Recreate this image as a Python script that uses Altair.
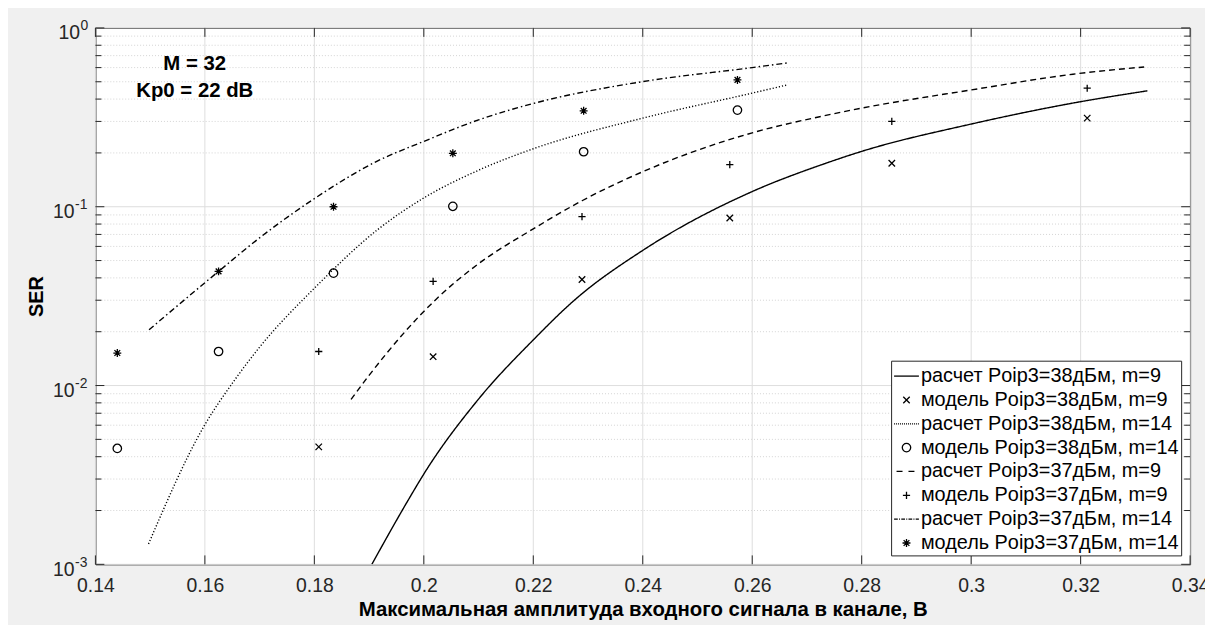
import altair as alt
import pandas as pd

# ---------------- data ----------------
x_ticks = [0.14, 0.16, 0.18, 0.2, 0.22, 0.24, 0.26, 0.28, 0.3, 0.32, 0.34]
y_decades = [1, 0.1, 0.01, 0.001]
y_exps = ["0", "-1", "-2", "-3"]
y_minor = [k * d for d in (0.001, 0.01, 0.1) for k in range(2, 10)]

names = [
    "расчет Poip3=38дБм, m=9",
    "модель Poip3=38дБм, m=9",
    "расчет Poip3=38дБм, m=14",
    "модель Poip3=38дБм, m=14",
    "расчет Poip3=37дБм, m=9",
    "модель Poip3=37дБм, m=9",
    "расчет Poip3=37дБм, m=14",
    "модель Poip3=37дБм, m=14",
]

# calculated curves
c38_9_x = [0.1905, 0.1973, 0.2, 0.21, 0.22, 0.2275, 0.24, 0.26, 0.2732, 0.28, 0.3, 0.3186, 0.3322]
c38_9_y = [0.001, 0.00233, 0.0032, 0.0084, 0.018, 0.030, 0.057, 0.1216, 0.174, 0.204, 0.29, 0.38, 0.445]
c38_14_x = [0.1497, 0.1598, 0.1655, 0.17, 0.18, 0.1915, 0.2, 0.21, 0.22, 0.24, 0.26, 0.2664]
c38_14_y = [0.0013, 0.0059, 0.0108, 0.0164, 0.035, 0.0742, 0.112, 0.16, 0.211, 0.313, 0.432, 0.48]
c37_9_x = [0.1867, 0.19, 0.2024, 0.21, 0.22, 0.2289, 0.24, 0.26, 0.2732, 0.28, 0.3, 0.3186, 0.3316]
c37_9_y = [0.00836, 0.0114, 0.0307, 0.048, 0.0752, 0.108, 0.157, 0.259, 0.323, 0.356, 0.45, 0.551, 0.605]
c37_14_x = [0.1498, 0.1625, 0.17, 0.18, 0.1915, 0.2, 0.21, 0.22, 0.24, 0.26, 0.2664]
c37_14_y = [0.0205, 0.0435, 0.067, 0.111, 0.18, 0.232, 0.306, 0.378, 0.501, 0.60, 0.637]

# model points
m38_9_x = [0.1808, 0.2017, 0.2289, 0.2559, 0.2855, 0.3212]
m38_9_y = [0.00454, 0.0145, 0.0392, 0.0865, 0.175, 0.313]
m38_14_x = [0.144, 0.1625, 0.1835, 0.2053, 0.2292, 0.2573]
m38_14_y = [0.00445, 0.0155, 0.0425, 0.1005, 0.203, 0.347]
m37_9_x = [0.1808, 0.2017, 0.2289, 0.2559, 0.2855, 0.3212]
m37_9_y = [0.0155, 0.0382, 0.088, 0.172, 0.30, 0.460]
m37_14_x = [0.144, 0.1625, 0.1835, 0.2053, 0.2292, 0.2573]
m37_14_y = [0.0152, 0.0435, 0.1, 0.199, 0.344, 0.512]

ann_x = [0.15815, 0.15815]
ann_y = [0.582, 0.413]
ann_t = ["M = 32", "Kp0 = 22 dB"]

# ---------------- tables ----------------
def frame(name, xs, ys):
    return pd.DataFrame({"series": name, "x": xs, "y": ys})

lines_df = pd.concat([
    frame(names[0], c38_9_x, c38_9_y),
    frame(names[2], c38_14_x, c38_14_y),
    frame(names[4], c37_9_x, c37_9_y),
    frame(names[6], c37_14_x, c37_14_y),
], ignore_index=True)
points_df = pd.concat([
    frame(names[1], m38_9_x, m38_9_y),
    frame(names[3], m38_14_x, m38_14_y),
    frame(names[5], m37_9_x, m37_9_y),
    frame(names[7], m37_14_x, m37_14_y),
], ignore_index=True)

# ---------------- styles ----------------
W, H = 1102, 540
INK = "#262626"
GRID = "#dedede"


def pattern_path(pat, start=-1.0, end=1.0):
    parts, pos, i = [], start, 0
    while pos < end - 1e-9:
        seg = pat[i % len(pat)]
        if i % 2 == 0:
            e = min(pos + seg, end)
            parts.append(f"M{pos:.3f},0L{e:.3f},0")
        pos += seg
        i += 1
    return "".join(parts)


r_o, r_p, r_x, r_s, r_d = 0.34, 0.29, 0.26, 0.32, 0.23
shape_range = [
    "M-1,0L1,0",
    f"M{-r_x},{-r_x}L{r_x},{r_x}M{-r_x},{r_x}L{r_x},{-r_x}",
    pattern_path([0.08, 0.08]),
    f"M{r_o},0A{r_o},{r_o},0,1,1,{-r_o},0A{r_o},{r_o},0,1,1,{r_o},0Z",
    pattern_path([0.48, 0.48], start=-0.8, end=0.8),
    f"M{-r_p},0L{r_p},0M0,{-r_p}L0,{r_p}",
    pattern_path([0.3, 0.1, 0.08, 0.1]),
    f"M{-r_s},0L{r_s},0M0,{-r_s}L0,{r_s}M{-r_d},{-r_d}L{r_d},{r_d}M{-r_d},{r_d}L{r_d},{-r_d}",
]
dash_range = [[1, 0], [1.2, 2], [6, 4], [6, 3, 1.5, 3]]

xs = alt.Scale(domain=[0.14, 0.34], nice=False, zero=False)
ys = alt.Scale(type="log", domain=[0.001, 1], nice=False)

x_axis = alt.Axis(
    values=x_ticks, format="~g", ticks=False, tickSize=0, domain=False, grid=False,
    labelFontSize=19.5, labelColor=INK, labelPadding=27, labelBaseline="alphabetic",
    labelOverlap=False, labelFlush=False,
    title="Максимальная амплитуда входного сигнала в канале, В",
    titleFontSize=20.5, titleFontWeight="bold", titleColor="black",
    titleY=52, titleBaseline="alphabetic",
)
y_axis = alt.Axis(
    labels=False, ticks=False, tickSize=0, domain=False, grid=False,
    title="SER", titleFontSize=20, titleFontWeight="bold", titleColor="black",
    titleX=-59.5, titleY=270, titleAngle=270, titleAlign="center", titleBaseline="middle",
)


def X():
    return alt.X("x:Q", scale=xs, axis=x_axis)


def Y():
    return alt.Y("y:Q", scale=ys, axis=y_axis)


xt = pd.DataFrame({"x": x_ticks})
yd = pd.DataFrame({"y": y_decades, "e": y_exps})
ym = pd.DataFrame({"y": y_minor})

vgrid = alt.Chart(xt).mark_rule(color=GRID, strokeWidth=1).encode(x=X(), y=alt.value(0), y2=alt.value(H))
hgrid = alt.Chart(yd).mark_rule(color=GRID, strokeWidth=1).encode(y=Y(), x=alt.value(0), x2=alt.value(W))
hminor = alt.Chart(ym).mark_rule(color="#d4d4d4", strokeWidth=1, strokeDash=[1, 2]).encode(
    y=Y(), x=alt.value(0), x2=alt.value(W))

tk = dict(color=INK, strokeWidth=1)
xt_bot = alt.Chart(xt).mark_rule(**tk).encode(x=X(), y=alt.value(H), y2=alt.value(H - 9))
xt_top = alt.Chart(xt).mark_rule(**tk).encode(x=X(), y=alt.value(0), y2=alt.value(9))
yt_l = alt.Chart(yd).mark_rule(**tk).encode(y=Y(), x=alt.value(0), x2=alt.value(9))
yt_r = alt.Chart(yd).mark_rule(**tk).encode(y=Y(), x=alt.value(W - 9), x2=alt.value(W))
ym_l = alt.Chart(ym).mark_rule(**tk).encode(y=Y(), x=alt.value(0), x2=alt.value(6))
ym_r = alt.Chart(ym).mark_rule(**tk).encode(y=Y(), x=alt.value(W - 6), x2=alt.value(W))

lines = alt.Chart(lines_df).mark_line(color="black", strokeWidth=1.4, interpolate="monotone", clip=True).encode(
    x=X(), y=Y(),
    strokeDash=alt.StrokeDash("series:N", scale=alt.Scale(domain=[names[0], names[2], names[4], names[6]],
                                                          range=dash_range), legend=None),
    detail="series:N",
)

points = alt.Chart(points_df).mark_point(filled=False, size=625, strokeWidth=1.3, color="black", opacity=1).encode(
    x=X(), y=Y(),
    shape=alt.Shape(
        "series:N",
        scale=alt.Scale(domain=names, range=shape_range),
        legend=alt.Legend(
            title=None, orient="bottom-right", offset=9, symbolSize=625, symbolStrokeWidth=1.3,
            symbolStrokeColor="black", symbolFillColor="transparent", labelFontSize=20,
            labelColor="black", labelLimit=500, labelOffset=1, rowPadding=0, padding=2,
            strokeColor=INK, fillColor="white",
        ),
    ),
)

ten_a = alt.Chart(yd).transform_filter(alt.datum.e != "0").mark_text(
    align="right", baseline="alphabetic", fontSize=19.5, color=INK, dy=11.5
).encode(x=alt.value(-21), y=Y(), text=alt.value("10"))
ten_b = alt.Chart(yd).transform_filter(alt.datum.e == "0").mark_text(
    align="right", baseline="alphabetic", fontSize=19.5, color=INK, dy=11.5
).encode(x=alt.value(-15.5), y=Y(), text=alt.value("10"))
sup_a = alt.Chart(yd).transform_filter(alt.datum.e != "0").mark_text(
    align="left", baseline="alphabetic", fontSize=14, color=INK, dy=2.5
).encode(x=alt.value(-20.5), y=Y(), text="e:N")
sup_b = alt.Chart(yd).transform_filter(alt.datum.e == "0").mark_text(
    align="left", baseline="alphabetic", fontSize=14, color=INK, dy=2.5
).encode(x=alt.value(-15), y=Y(), text="e:N")

ann = alt.Chart(pd.DataFrame({"x": ann_x, "y": ann_y, "t": ann_t})).mark_text(
    align="center", baseline="alphabetic", fontSize=20.5, fontWeight="bold", color="black"
).encode(x=X(), y=Y(), text="t:N")

chart = alt.layer(
    vgrid, hgrid, hminor, xt_bot, xt_top, yt_l, yt_r, ym_l, ym_r,
    lines, points, ten_a, ten_b, sup_a, sup_b, ann,
).properties(
    width=W, height=H,
    autosize=alt.AutoSizeParams(type="none"),
    padding={"left": 88, "top": 18, "right": 15, "bottom": 59},
).configure(
    background="#f0f0f0", font="Liberation Sans",
).configure_view(
    fill="white", stroke=INK, strokeWidth=1,
)

chart.save("out.html", embed_options={"renderer": "svg", "actions": False})
